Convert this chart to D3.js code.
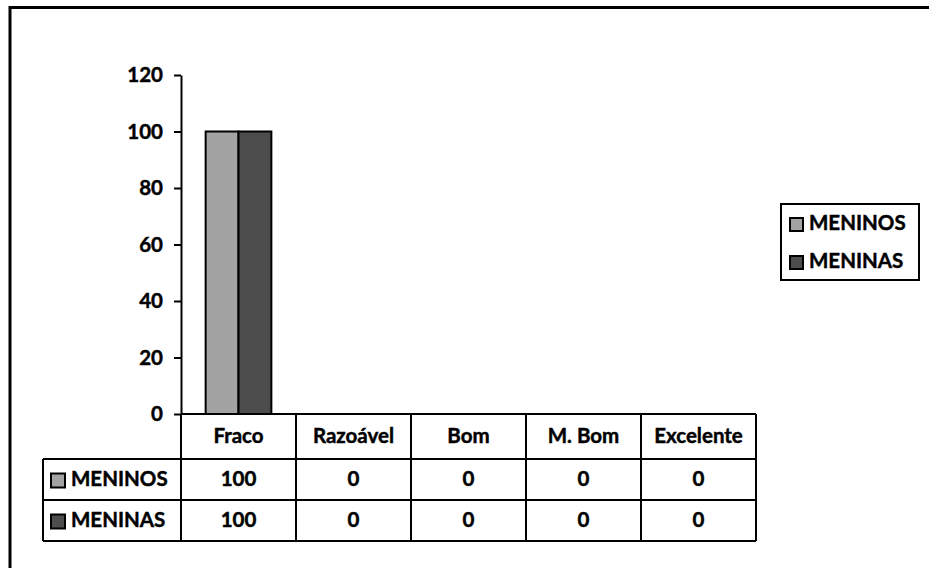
<!DOCTYPE html>
<html>
<head>
<meta charset="utf-8">
<script src="https://cdn.jsdelivr.net/npm/d3@7"></script>
<style>
  body { margin: 0; background: #fff; }
  text { font-family: Lato, "Open Sans", sans-serif; font-weight: bold; fill: #000; stroke: #000; stroke-width: 0.45px; }
</style>
</head>
<body>
<div id="chart"></div>
<script>
// chart data
const categories = ["Fraco", "Razoável", "Bom", "M. Bom", "Excelente"];
const seriesNames = ["MENINOS", "MENINAS"];
const meninos = [100, 0, 0, 0, 0];
const meninas = [100, 0, 0, 0, 0];
const yTicks = [0, 20, 40, 60, 80, 100, 120];
const colors = ["#a3a3a3", "#4d4d4d"];

const width = 929;
const height = 568;
const fontSize = 20.5;

const seriesValues = [meninos, meninas];
const rows = seriesNames.map((name, i) => ({ name, values: seriesValues[i], color: colors[i] }));

const svg = d3.select("#chart")
  .append("svg")
  .attr("width", width)
  .attr("height", height);

// outer frame (runs off the right and bottom)
svg.append("rect")
  .attr("x", 10).attr("y", 7.5)
  .attr("width", 950).attr("height", 600)
  .attr("fill", "none")
  .attr("stroke", "#000")
  .attr("stroke-width", 3);

// scales
const xScale = d3.scaleBand()
  .domain(categories)
  .range([181, 756]);

const xInner = d3.scaleBand()
  .domain(seriesNames)
  .range([0, xScale.bandwidth()])
  .paddingInner(0)
  .paddingOuter(0.75);

const yScale = d3.scaleLinear()
  .domain([0, 120])
  .range([414, 75]);

// bars
const groups = svg.selectAll("g.cat")
  .data(categories)
  .join("g")
  .attr("class", "cat")
  .attr("transform", d => `translate(${xScale(d)},0)`);

groups.selectAll("rect")
  .data((d, i) => rows.map(r => ({ name: r.name, value: r.values[i], color: r.color })))
  .join("rect")
  .filter(d => d.value > 0)
  .attr("x", d => xInner(d.name))
  .attr("y", d => yScale(d.value))
  .attr("width", xInner.bandwidth())
  .attr("height", d => yScale(0) - yScale(d.value))
  .attr("fill", d => d.color)
  .attr("stroke", "#000")
  .attr("stroke-width", 2);

// y axis
const yAxisGroup = svg.append("g")
  .attr("transform", `translate(181,0)`)
  .call(d3.axisLeft(yScale).tickValues(yTicks).tickSize(7).tickSizeOuter(0).tickPadding(11));

yAxisGroup.select(".domain").attr("stroke", "#000").attr("stroke-width", 2);
yAxisGroup.selectAll(".tick line").attr("stroke", "#000").attr("stroke-width", 2);
yAxisGroup.selectAll(".tick text")
  .attr("font-size", fontSize)
  .style("font-family", "Lato, sans-serif")
  .style("font-weight", "bold");

// data table
const tableLeft = 43;
const rowY = [414, 459, 500, 541];
const table = svg.append("g").attr("class", "table");
const lineStyle = sel => sel.attr("stroke", "#000").attr("stroke-width", 2);

// horizontal lines
table.append("line").attr("x1", 181).attr("x2", 756).attr("y1", rowY[0]).attr("y2", rowY[0]).call(lineStyle);
rowY.slice(1).forEach(y => {
  table.append("line").attr("x1", tableLeft).attr("x2", 756).attr("y1", y).attr("y2", y).call(lineStyle);
});
// vertical lines
table.append("line").attr("x1", tableLeft).attr("x2", tableLeft).attr("y1", rowY[1]).attr("y2", rowY[3]).call(lineStyle);
categories.forEach(c => {
  table.append("line").attr("x1", xScale(c)).attr("x2", xScale(c)).attr("y1", rowY[0]).attr("y2", rowY[3]).call(lineStyle);
});
table.append("line").attr("x1", 756).attr("x2", 756).attr("y1", rowY[0]).attr("y2", rowY[3]).call(lineStyle);

// header labels
table.selectAll("text.head")
  .data(categories)
  .join("text")
  .attr("class", "head")
  .attr("x", d => xScale(d) + xScale.bandwidth() / 2)
  .attr("y", (rowY[0] + rowY[1]) / 2 + 1)
  .attr("text-anchor", "middle")
  .attr("dominant-baseline", "middle")
  .attr("font-size", fontSize)
  .text(d => d);

// series rows
rows.forEach((r, i) => {
  const cy = (rowY[i + 1] + rowY[i + 2]) / 2 + 1;
  table.append("rect")
    .attr("x", 51).attr("y", cy - 7)
    .attr("width", 14).attr("height", 14)
    .attr("fill", r.color).attr("stroke", "#000").attr("stroke-width", 2);
  table.append("text")
    .attr("x", 71).attr("y", cy)
    .attr("dominant-baseline", "middle")
    .attr("font-size", fontSize)
    .text(r.name);
  table.selectAll(`text.v${i}`)
    .data(r.values)
    .join("text")
    .attr("class", `v${i}`)
    .attr("x", (d, j) => xScale(categories[j]) + xScale.bandwidth() / 2)
    .attr("y", cy)
    .attr("text-anchor", "middle")
    .attr("dominant-baseline", "middle")
    .attr("font-size", fontSize)
    .text(d => d);
});

// legend
const legend = svg.append("g").attr("class", "legend");
legend.append("rect")
  .attr("x", 781).attr("y", 204)
  .attr("width", 138).attr("height", 76)
  .attr("fill", "#fff").attr("stroke", "#000").attr("stroke-width", 2);

const legendY = [225, 263];
rows.forEach((r, i) => {
  legend.append("rect")
    .attr("x", 790).attr("y", legendY[i] - 7)
    .attr("width", 13).attr("height", 13)
    .attr("fill", r.color).attr("stroke", "#000").attr("stroke-width", 2);
  legend.append("text")
    .attr("x", 809).attr("y", legendY[i])
    .attr("dominant-baseline", "middle")
    .attr("font-size", fontSize)
    .text(r.name);
});
</script>
</body>
</html>
